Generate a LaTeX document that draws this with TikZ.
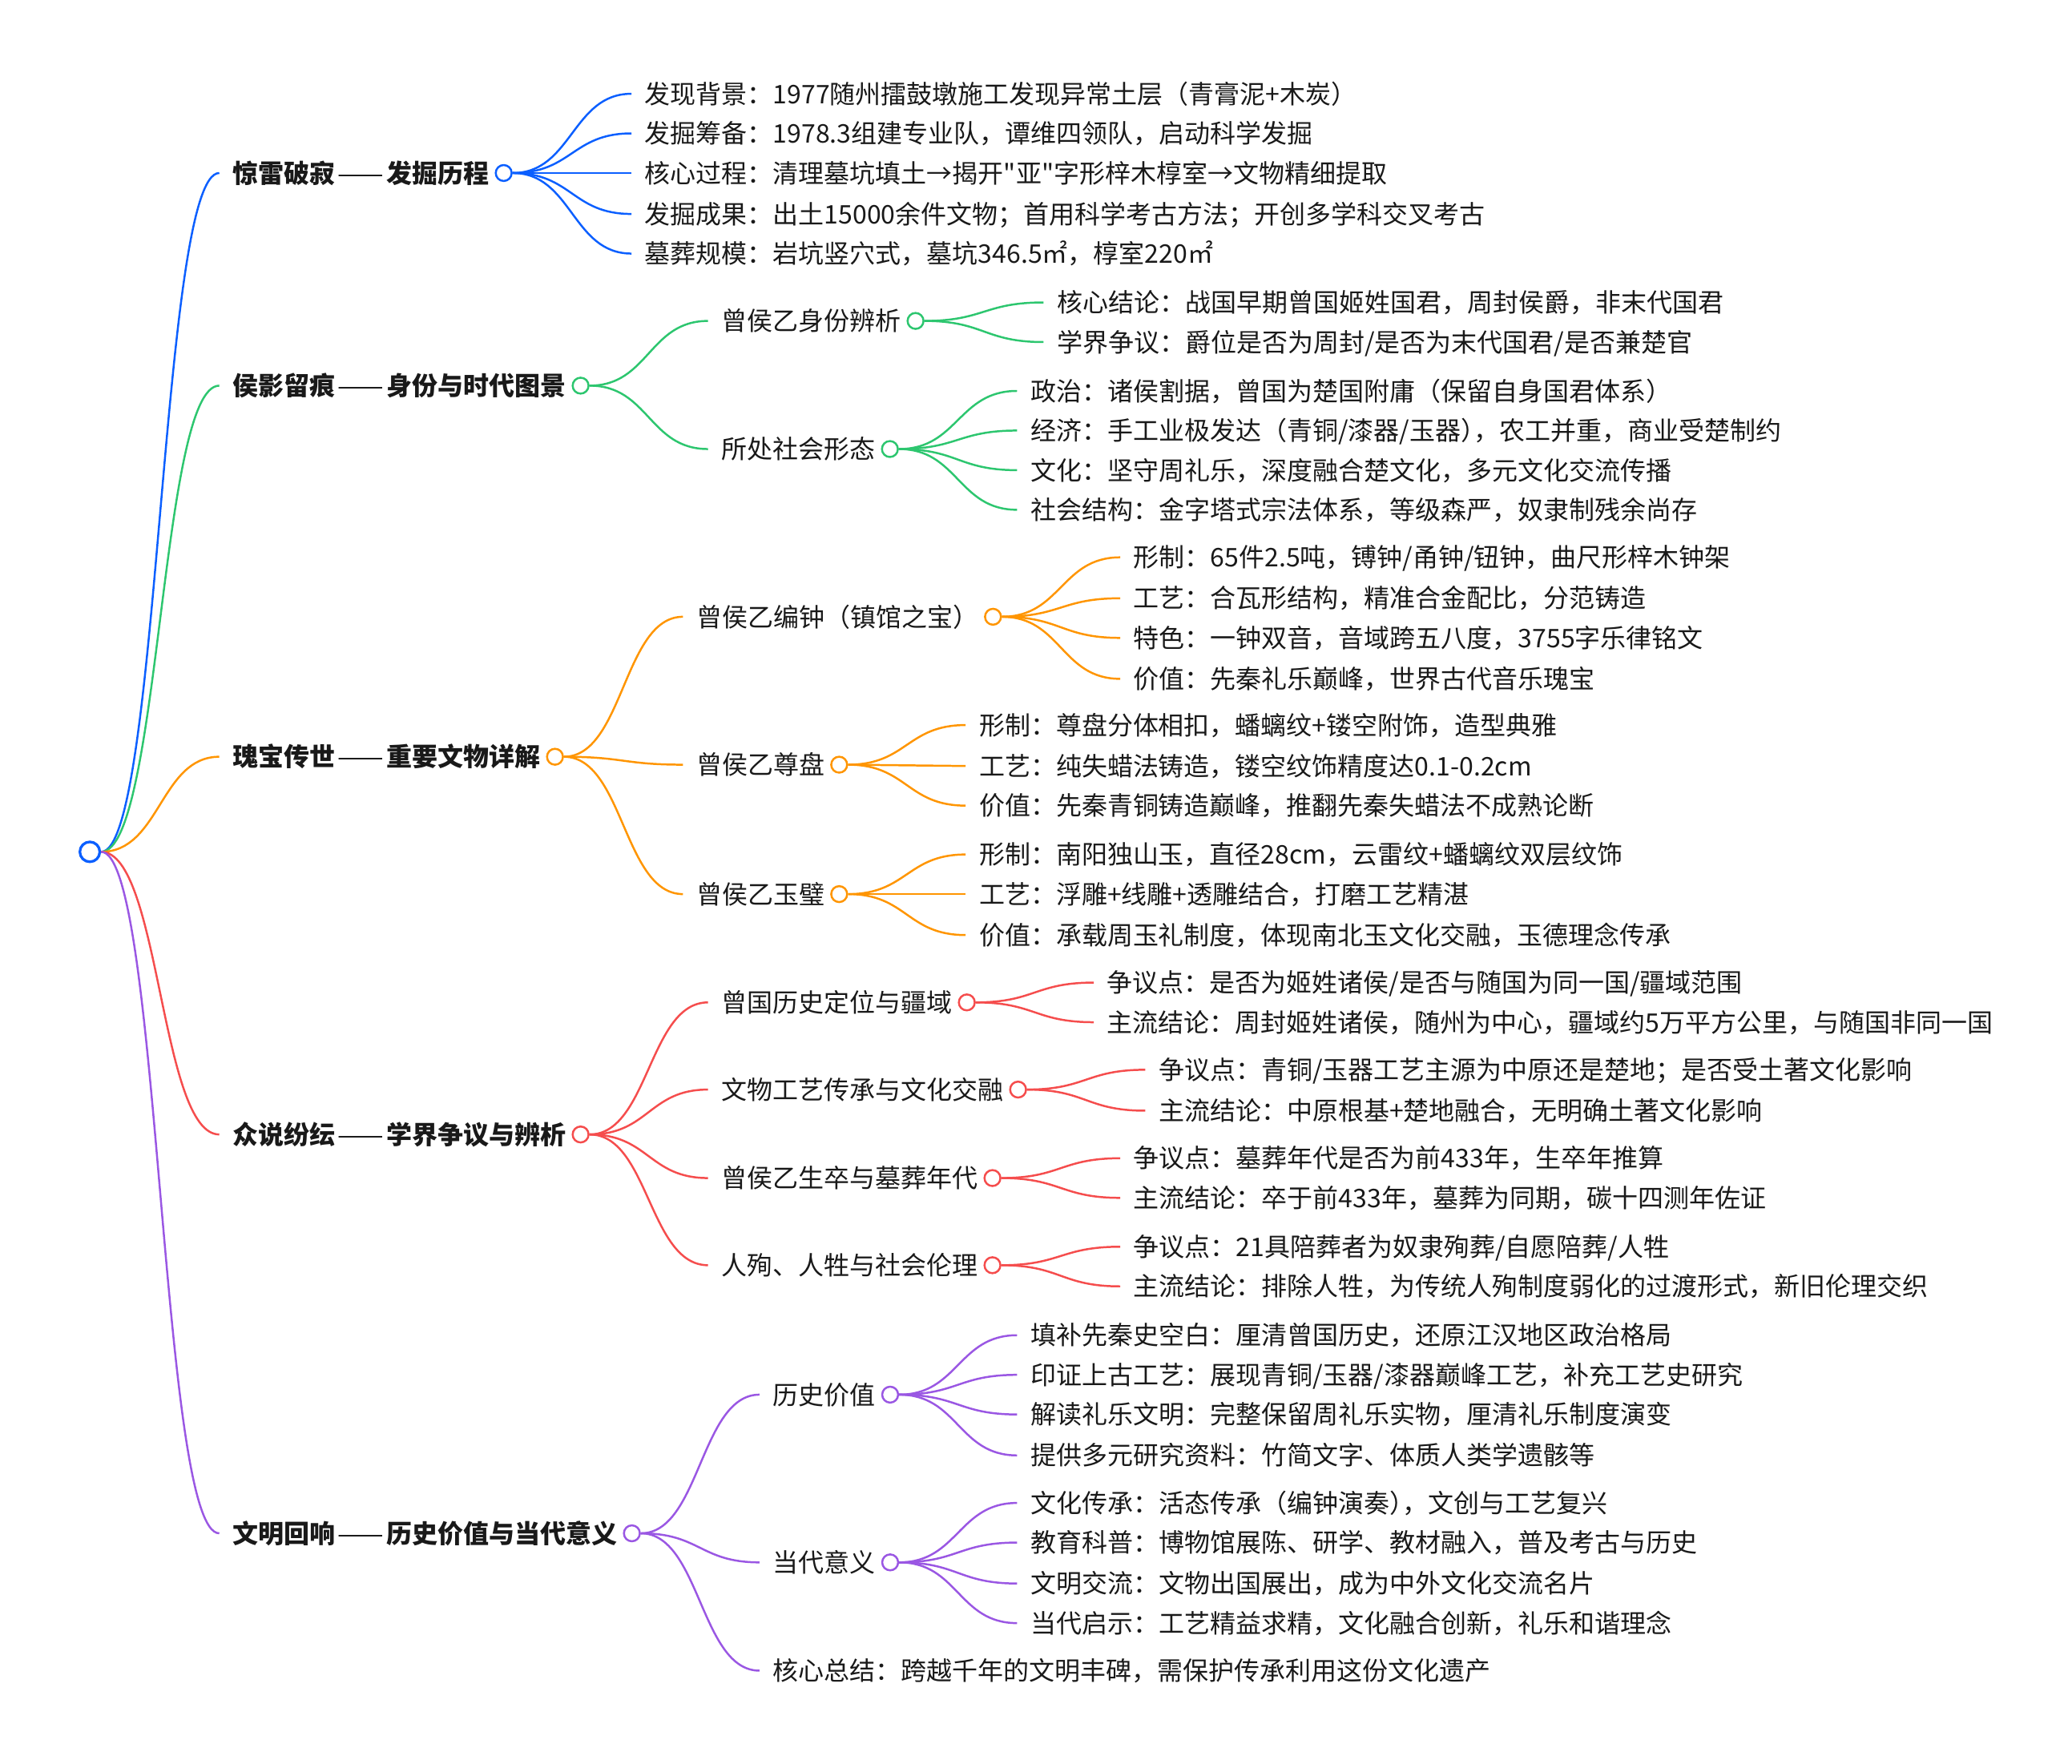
\documentclass[tikz,border=0pt]{standalone}
\usepackage{fontspec}
\usepackage{graphicx}
\newfontfamily\cjkfont{Noto Sans CJK SC}
\usetikzlibrary{positioning,calc}
\definecolor{mmblue}{HTML}{0B5FFF}
\definecolor{mmgreen}{HTML}{2DC66F}
\definecolor{mmorange}{HTML}{FF9500}
\definecolor{mmred}{HTML}{F54D4D}
\definecolor{mmpurple}{HTML}{9A57E3}
\newcommand{\dashpair}{\makebox[2em]{\mdseries\resizebox{1.8em}{\height}{——}}}
\begin{document}
\begin{tikzpicture}[x=0.9945pt,y=-0.9945pt,
    every node/.style={font=\cjkfont\fontsize{19.3pt}{23pt}\selectfont, text=black!90},
    txt/.style={anchor=west, inner xsep=10pt, inner ysep=0pt, text height=16pt, text depth=1.4pt},
    head/.style={txt, font=\cjkfont\bfseries\fontsize{19.3pt}{23pt}\selectfont},
    hub/.style={circle, draw=#1, fill=white, line width=1.5pt, minimum size=12pt, inner sep=0pt},
    link/.style={line width=1.5pt, to path={let \p1=(\tikztostart), \p2=(\tikztotarget) in
        (\p1) .. controls ({(\x1+\x2)/2},\y1) and ({(\x1+\x2)/2},\y2) .. (\p2)}}]
    \useasboundingbox (0pt,0pt) rectangle (1560pt,-1328.3pt);
    \node[hub=mmblue, minimum size=15pt, line width=2pt] (root) at (68,645) {};
    \node[head] (b1) at (166,131) {惊雷破寂\dashpair 发掘历程};
    \node[hub=mmblue, right=-6pt of b1] (b1d) {};
    \node[txt] (b1a) at (478,71) {发现背景：1977随州擂鼓墩施工发现异常土层（青膏泥+木炭）};
    \node[txt] (b1b) at (478,101) {发掘筹备：1978.3组建专业队，谭维四领队，启动科学发掘};
    \node[txt] (b1c) at (478,131) {核心过程：清理墓坑填土→揭开"亚"字形梓木椁室→文物精细提取};
    \node[txt] (b1e) at (478,162) {发掘成果：出土15000余件文物；首用科学考古方法；开创多学科交叉考古};
    \node[txt] (b1f) at (478,192) {墓葬规模：岩坑竖穴式，墓坑346.5㎡，椁室220㎡};
    \node[head] (b2) at (166,292) {侯影留痕\dashpair 身份与时代图景};
    \node[hub=mmgreen, right=-6pt of b2] (b2d) {};
    \node[txt] (b2a) at (536,243) {曾侯乙身份辨析};
    \node[hub=mmgreen, right=-6pt of b2a] (b2ad) {};
    \node[txt] (b2a1) at (790,229) {核心结论：战国早期曾国姬姓国君，周封侯爵，非末代国君};
    \node[txt] (b2a2) at (790,259) {学界争议：爵位是否为周封/是否为末代国君/是否兼楚官};
    \node[txt] (b2b) at (536,340) {所处社会形态};
    \node[hub=mmgreen, right=-6pt of b2b] (b2bd) {};
    \node[txt] (b2b1) at (770,296) {政治：诸侯割据，曾国为楚国附庸（保留自身国君体系）};
    \node[txt] (b2b2) at (770,326) {经济：手工业极发达（青铜/漆器/玉器）\kern-0.5em，农工并重，商业受楚制约};
    \node[txt] (b2b3) at (770,356) {文化：坚守周礼乐，深度融合楚文化，多元文化交流传播};
    \node[txt] (b2b4) at (770,386) {社会结构：金字塔式宗法体系，等级森严，奴隶制残余尚存};
    \node[head] (b3) at (166,573) {瑰宝传世\dashpair 重要文物详解};
    \node[hub=mmorange, right=-6pt of b3] (b3d) {};
    \node[txt] (b3a) at (517,467) {曾侯乙编钟（镇馆之宝）};
    \node[hub=mmorange, right=-6pt of b3a] (b3ad) {};
    \node[txt] (b3a1) at (848,422) {形制：65件2.5吨，镈钟/甬钟/钮钟，曲尺形梓木钟架};
    \node[txt] (b3a2) at (848,453) {工艺：合瓦形结构，精准合金配比，分范铸造};
    \node[txt] (b3a3) at (848,483) {特色：一钟双音，音域跨五八度，3755字乐律铭文};
    \node[txt] (b3a4) at (848,514) {价值：先秦礼乐巅峰，世界古代音乐瑰宝};
    \node[txt] (b3b) at (517,579) {曾侯乙尊盘};
    \node[hub=mmorange, right=-6pt of b3b] (b3bd) {};
    \node[txt] (b3b1) at (731,549) {形制：尊盘分体相扣，蟠螭纹+镂空附饰，造型典雅};
    \node[txt] (b3b2) at (731,580) {工艺：纯失蜡法铸造，镂空纹饰精度达0.1-0.2cm};
    \node[txt] (b3b3) at (731,610) {价值：先秦青铜铸造巅峰，推翻先秦失蜡法不成熟论断};
    \node[txt] (b3c) at (517,677) {曾侯乙玉璧};
    \node[hub=mmorange, right=-6pt of b3c] (b3cd) {};
    \node[txt] (b3c1) at (731,647) {形制：南阳独山玉，直径28cm，云雷纹+蟠螭纹双层纹饰};
    \node[txt] (b3c2) at (731,677) {工艺：浮雕+线雕+透雕结合，打磨工艺精湛};
    \node[txt] (b3c3) at (731,708) {价值：承载周玉礼制度，体现南北玉文化交融，玉德理念传承};
    \node[head] (b4) at (166,859) {众说纷纭\dashpair 学界争议与辨析};
    \node[hub=mmred, right=-6pt of b4] (b4d) {};
    \node[txt] (b4a) at (536,759) {曾国历史定位与疆域};
    \node[hub=mmred, right=-6pt of b4a] (b4ad) {};
    \node[txt] (b4a1) at (828,744) {争议点：是否为姬姓诸侯/是否与随国为同一国/疆域范围};
    \node[txt] (b4a2) at (828,774) {主流结论：周封姬姓诸侯，随州为中心，疆域约5万平方公里，与随国非同一国};
    \node[txt] (b4b) at (536,825) {文物工艺传承与文化交融};
    \node[hub=mmred, right=-6pt of b4b] (b4bd) {};
    \node[txt] (b4b1) at (867,810) {争议点：青铜/玉器工艺主源为中原还是楚地；是否受土著文化影响};
    \node[txt] (b4b2) at (867,841) {主流结论：中原根基+楚地融合，无明确土著文化影响};
    \node[txt] (b4c) at (536,892) {曾侯乙生卒与墓葬年代};
    \node[hub=mmred, right=-6pt of b4c] (b4cd) {};
    \node[txt] (b4c1) at (848,877) {争议点：墓葬年代是否为前433年，生卒年推算};
    \node[txt] (b4c2) at (848,907) {主流结论：卒于前433年，墓葬为同期，碳十四测年佐证};
    \node[txt] (b4e) at (536,958) {人殉、人牲与社会伦理};
    \node[hub=mmred, right=-6pt of b4e] (b4ed) {};
    \node[txt] (b4e1) at (848,944) {争议点：21具陪葬者为奴隶殉葬/自愿陪葬/人牲};
    \node[txt] (b4e2) at (848,974) {主流结论：排除人牲，为传统人殉制度弱化的过渡形式，新旧伦理交织};
    \node[head] (b5) at (166,1161) {文明回响\dashpair 历史价值与当代意义};
    \node[hub=mmpurple, right=-6pt of b5] (b5d) {};
    \node[txt] (b5a) at (575,1056) {历史价值};
    \node[hub=mmpurple, right=-6pt of b5a] (b5ad) {};
    \node[txt] (b5a1) at (770,1011) {填补先秦史空白：厘清曾国历史，还原江汉地区政治格局};
    \node[txt] (b5a2) at (770,1041) {印证上古工艺：展现青铜/玉器/漆器巅峰工艺，补充工艺史研究};
    \node[txt] (b5a3) at (770,1071) {解读礼乐文明：完整保留周礼乐实物，厘清礼乐制度演变};
    \node[txt] (b5a4) at (770,1102) {提供多元研究资料：竹简文字、体质人类学遗骸等};
    \node[txt] (b5b) at (575,1183) {当代意义};
    \node[hub=mmpurple, right=-6pt of b5b] (b5bd) {};
    \node[txt] (b5b1) at (770,1138) {文化传承：活态传承（编钟演奏）\kern-0.5em，文创与工艺复兴};
    \node[txt] (b5b2) at (770,1168) {教育科普：博物馆展陈、研学、教材融入，普及考古与历史};
    \node[txt] (b5b3) at (770,1199) {文明交流：文物出国展出，成为中外文化交流名片};
    \node[txt] (b5b4) at (770,1229) {当代启示：工艺精益求精，文化融合创新，礼乐和谐理念};
    \node[txt] (b5c) at (575,1265) {核心总结：跨越千年的文明丰碑，需保护传承利用这份文化遗产};
    \draw[link, mmblue] (root.east) to (b1.west);
    \draw[link, mmgreen] (root.east) to (b2.west);
    \draw[link, mmorange] (root.east) to (b3.west);
    \draw[link, mmred] (root.east) to (b4.west);
    \draw[link, mmpurple] (root.east) to (b5.west);
    \draw[link, mmblue] (b1d.east) to (b1a.west);
    \draw[link, mmblue] (b1d.east) to (b1b.west);
    \draw[link, mmblue] (b1d.east) to (b1c.west);
    \draw[link, mmblue] (b1d.east) to (b1e.west);
    \draw[link, mmblue] (b1d.east) to (b1f.west);
    \draw[link, mmgreen] (b2d.east) to (b2a.west);
    \draw[link, mmgreen] (b2d.east) to (b2b.west);
    \draw[link, mmgreen] (b2ad.east) to (b2a1.west);
    \draw[link, mmgreen] (b2ad.east) to (b2a2.west);
    \draw[link, mmgreen] (b2bd.east) to (b2b1.west);
    \draw[link, mmgreen] (b2bd.east) to (b2b2.west);
    \draw[link, mmgreen] (b2bd.east) to (b2b3.west);
    \draw[link, mmgreen] (b2bd.east) to (b2b4.west);
    \draw[link, mmorange] (b3d.east) to (b3a.west);
    \draw[link, mmorange] (b3d.east) to (b3b.west);
    \draw[link, mmorange] (b3d.east) to (b3c.west);
    \draw[link, mmorange] (b3ad.east) to (b3a1.west);
    \draw[link, mmorange] (b3ad.east) to (b3a2.west);
    \draw[link, mmorange] (b3ad.east) to (b3a3.west);
    \draw[link, mmorange] (b3ad.east) to (b3a4.west);
    \draw[link, mmorange] (b3bd.east) to (b3b1.west);
    \draw[link, mmorange] (b3bd.east) to (b3b2.west);
    \draw[link, mmorange] (b3bd.east) to (b3b3.west);
    \draw[link, mmorange] (b3cd.east) to (b3c1.west);
    \draw[link, mmorange] (b3cd.east) to (b3c2.west);
    \draw[link, mmorange] (b3cd.east) to (b3c3.west);
    \draw[link, mmred] (b4d.east) to (b4a.west);
    \draw[link, mmred] (b4d.east) to (b4b.west);
    \draw[link, mmred] (b4d.east) to (b4c.west);
    \draw[link, mmred] (b4d.east) to (b4e.west);
    \draw[link, mmred] (b4ad.east) to (b4a1.west);
    \draw[link, mmred] (b4ad.east) to (b4a2.west);
    \draw[link, mmred] (b4bd.east) to (b4b1.west);
    \draw[link, mmred] (b4bd.east) to (b4b2.west);
    \draw[link, mmred] (b4cd.east) to (b4c1.west);
    \draw[link, mmred] (b4cd.east) to (b4c2.west);
    \draw[link, mmred] (b4ed.east) to (b4e1.west);
    \draw[link, mmred] (b4ed.east) to (b4e2.west);
    \draw[link, mmpurple] (b5d.east) to (b5a.west);
    \draw[link, mmpurple] (b5d.east) to (b5b.west);
    \draw[link, mmpurple] (b5d.east) to (b5c.west);
    \draw[link, mmpurple] (b5ad.east) to (b5a1.west);
    \draw[link, mmpurple] (b5ad.east) to (b5a2.west);
    \draw[link, mmpurple] (b5ad.east) to (b5a3.west);
    \draw[link, mmpurple] (b5ad.east) to (b5a4.west);
    \draw[link, mmpurple] (b5bd.east) to (b5b1.west);
    \draw[link, mmpurple] (b5bd.east) to (b5b2.west);
    \draw[link, mmpurple] (b5bd.east) to (b5b3.west);
    \draw[link, mmpurple] (b5bd.east) to (b5b4.west);
\end{tikzpicture}
\end{document}
